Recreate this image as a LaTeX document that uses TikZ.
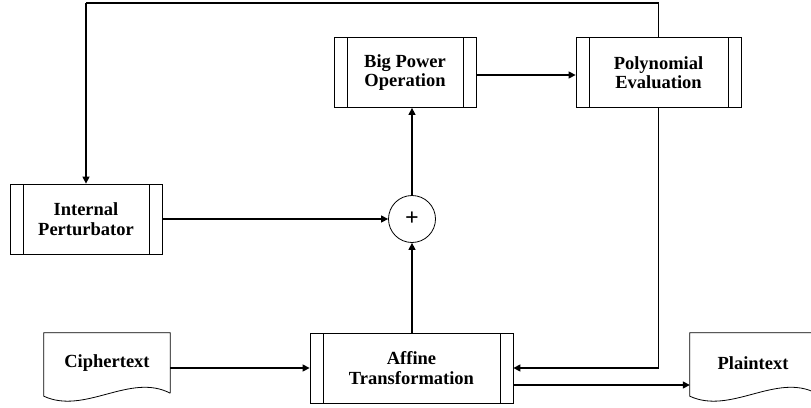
\documentclass[tikz,border=0pt]{standalone}
\usepackage{fontspec}
\setmainfont{Liberation Serif}
\usetikzlibrary{arrows.meta,calc}
\tikzset{
  procbox/.style={draw, line width=0.8pt, minimum width=#1, minimum height=70pt, inner sep=0pt,
    align=center, font=\bfseries\fontsize{18.5}{19.5}\selectfont,
    path picture={
      \draw[line width=0.8pt] ([xshift=13pt]path picture bounding box.north west) -- ([xshift=13pt]path picture bounding box.south west);
      \draw[line width=0.8pt] ([xshift=-13pt]path picture bounding box.north east) -- ([xshift=-13pt]path picture bounding box.south east);
    }},
  docnode/.style={minimum width=126pt, minimum height=60pt, inner sep=0pt,
    font=\bfseries\fontsize{18.5}{19.5}\selectfont},
  docshape/.style={draw, line width=0.8pt},
  sumnode/.style={draw, circle, line width=0.8pt, minimum size=47pt, inner sep=0pt,
    font=\bfseries\fontsize{24}{24}\selectfont},
  arr/.style={line width=1.4pt, -{Triangle[length=7pt,width=7pt]}},
  ln/.style={line width=1.4pt}
}
\begin{document}
\begin{tikzpicture}[x=1pt,y=-1pt]
\useasboundingbox (0,0) rectangle (811,407);
\clip (0,0) rectangle (811,407);
\node[procbox=152pt] (ip) at (86,219) {Internal\\Perturbator};
\node[procbox=142pt] (bp) at (405,72.5) {Big Power\\Operation};
\node[procbox=165pt] (pe) at (658.5,72.5) {Polynomial\\Evaluation};
\node[procbox=203pt] (af) at (411.5,368) {Affine\\Transformation};
\node[sumnode] (sum) at (412,219) {+};
\node[docnode] (ct) at (107,363) {Ciphertext};
\node[docnode] (pt) at (753,363) {Plaintext};
\draw[docshape] (ct.south east) -- (ct.north east) -- (ct.north west) -- ([yshift=-3pt]ct.south west)
  .. controls ($(ct.south west)+(41,22)$) and ($(ct.south east)+(-40,-21)$) .. (ct.south east);
\draw[docshape] (pt.south east) -- (pt.north east) -- (pt.north west) -- ([yshift=-3pt]pt.south west)
  .. controls ($(pt.south west)+(41,22)$) and ($(pt.south east)+(-40,-21)$) .. (pt.south east);
\coordinate (topy) at (0,3);
\draw[ln] (pe.north) -- (pe.north |- topy) -- (ip.north |- topy);
\draw[arr] (ip.north |- topy) -- (ip.north);
\draw[arr] (pe.south) |- (af.east);
\draw[arr] ([yshift=-2.5pt]bp.east) -- ([yshift=-2.5pt]bp.east -| pe.west);
\draw[arr] (ip.east) -- (sum.west);
\draw[arr] (af.north -| sum.south) -- (sum.south);
\draw[arr] (sum.north) -- (sum.north |- bp.south);
\draw[arr] (af.west -| ct.east) -- (af.west);
\draw[arr] ([yshift=-17pt]af.east) -- ([yshift=-17pt]af.east -| pt.west);
\end{tikzpicture}
\end{document}
